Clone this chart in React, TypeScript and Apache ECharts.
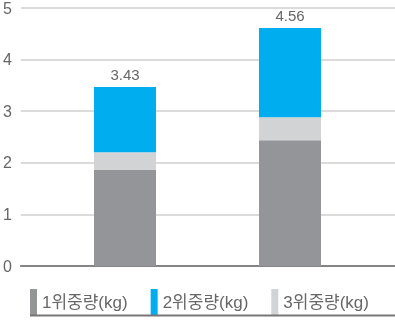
import React, { useEffect, useRef } from "react";
import * as echarts from "echarts";

const categories = ["A", "B"];
const rank1 = [1.84, 2.41];
const rank3 = [0.34, 0.44];
const rank2 = [1.25, 1.71];
const totals = [3.43, 4.56];
const yTicks = [0, 1, 2, 3, 4, 5];
const seriesNames = ["1위중량(kg)", "2위중량(kg)", "3위중량(kg)"];

const FONT = "'Liberation Sans', 'Noto Sans CJK KR', sans-serif";
const C1 = "#939598";
const C2 = "#00aeef";
const C3 = "#d1d3d4";

export default function App() {
  const ref = useRef<HTMLDivElement>(null);
  useEffect(() => {
    if (!ref.current) return;
    const chart = echarts.init(ref.current, null, { renderer: "svg" });
    chart.setOption({
      animation: false,
      legend: {
        left: 30,
        top: 289,
        itemWidth: 7,
        itemHeight: 26,
        itemGap: 23,
        itemTextGap: 4,
        icon: "rect",
        padding: 0,
        itemStyle: { borderWidth: 0 },
        textStyle: { fontFamily: FONT, fontSize: 17, color: "#666" },
        data: seriesNames,
        selectedMode: false,
      },
      grid: [
        { left: 17, right: 0, top: 5, bottom: 54 },
        { left: 42.5, right: 22.5, top: 5, bottom: 54 },
      ],
      xAxis: [
        {
          gridIndex: 0,
          type: "category",
          data: categories,
          axisLine: { show: true, lineStyle: { color: "#858585", width: 2 } },
          axisTick: { show: false },
          axisLabel: { show: false },
        },
        {
          gridIndex: 1,
          type: "category",
          data: categories,
          axisLine: { show: false },
          axisTick: { show: false },
          axisLabel: { show: false },
        },
      ],
      yAxis: [
        {
          gridIndex: 0,
          type: "value",
          min: yTicks[0],
          max: yTicks[yTicks.length - 1],
          interval: 1,
          axisLine: { show: false },
          axisTick: { show: false },
          axisLabel: { fontFamily: FONT, fontSize: 16, color: "#666", margin: 9 },
          splitLine: { lineStyle: { color: "#cfcfcf", width: 1.5 } },
        },
        {
          gridIndex: 1,
          type: "value",
          min: yTicks[0],
          max: yTicks[yTicks.length - 1],
          interval: 1,
          show: false,
          splitLine: { show: false },
        },
      ],
      series: [
        {
          name: seriesNames[0],
          type: "bar",
          stack: "w",
          xAxisIndex: 1,
          yAxisIndex: 1,
          barWidth: 62,
          itemStyle: { color: C1 },
          data: rank1,
        },
        {
          name: seriesNames[2],
          type: "bar",
          stack: "w",
          xAxisIndex: 1,
          yAxisIndex: 1,
          barWidth: 62,
          itemStyle: { color: C3 },
          data: rank3,
        },
        {
          name: seriesNames[1],
          type: "bar",
          stack: "w",
          xAxisIndex: 1,
          yAxisIndex: 1,
          barWidth: 62,
          itemStyle: { color: C2 },
          data: rank2,
          label: {
            show: true,
            position: "top",
            distance: 5,
            fontFamily: FONT,
            fontSize: 15,
            color: "#666",
            formatter: (p: any) => totals[p.dataIndex].toFixed(2),
          },
        },
      ],
      graphic: [
        {
          type: "line",
          shape: { x1: 30, y1: 315.5, x2: 395, y2: 315.5 },
          style: { stroke: "#777", lineWidth: 2 },
          z: 10,
        },
      ],
    });
    return () => chart.dispose();
  }, []);
  return (
    <div
      ref={ref}
      style={{ position: "fixed", left: 0, top: 0, width: 395, height: 320 }}
    />
  );
}
